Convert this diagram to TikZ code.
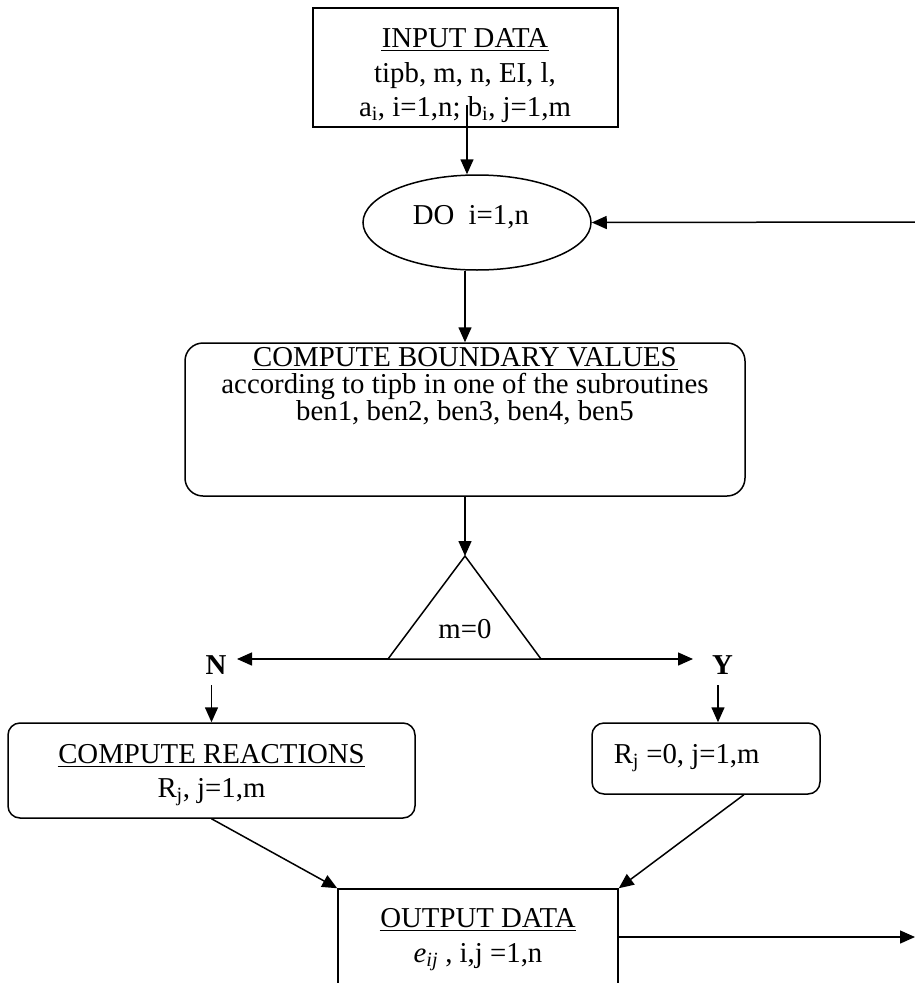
\documentclass[tikz,border=0pt]{standalone}
\usepackage{fontspec}
\setmainfont{Liberation Serif}
\usetikzlibrary{arrows.meta,calc,shapes.geometric}
\begin{document}
\begin{tikzpicture}[x=1pt,y=-1pt, line width=1.5pt,
  txt/.style={inner sep=0pt, font=\fontsize{28.8}{34}\selectfont},
  boxsharp/.style={draw, rectangle, inner sep=0pt},
  boxround/.style={draw, rectangle, rounded corners=#1, inner sep=0pt},
  arr/.style={-{Triangle[length=15pt,width=13pt]}},
  ul/.style={line width=1.4pt}]
\useasboundingbox (0,0) rectangle (915,983);

% input box
\node[boxsharp, minimum width=305pt, minimum height=119pt] (inp) at (465.5,67.5) {};
\node[txt, anchor=base] (inp1) at (465,47) {INPUT DATA};
\node[txt, anchor=base] (inp2) at (465,82) {tipb, m, n, EI, l,};
\node[txt, anchor=base] (inp3) at (465,116) {a\textsubscript{i}, i=1,n; b\textsubscript{i}, j=1,m};
\draw[ul] ([yshift=-3.5pt]inp1.base west) -- ([yshift=-3.5pt]inp1.base east);

% DO ellipse
\coordinate (instart) at (467,105);
\node[draw, ellipse, minimum width=228pt, minimum height=95pt, inner sep=0pt] (do) at (477,222.5) {};
\node[txt, anchor=base west] (dotxt) at (412,224) {DO~~i=1,n};
\draw[arr] (instart) -- (instart |- do.north);
\coordinate (loopin) at (915,222);
\draw[arr] (loopin) -- (do.east);

% compute boundary values
\node[boxround=18pt, minimum width=560pt, minimum height=153pt] (cbv) at (465,419.5) {};
\node[txt, anchor=base] (cbv1) at (465,366) {COMPUTE BOUNDARY VALUES};
\node[txt, anchor=base] (cbv2) at (465,393) {according to tipb in one of the subroutines};
\node[txt, anchor=base] (cbv3) at (465,420) {ben1, ben2, ben3, ben4, ben5};
\draw[ul] ([yshift=-3.5pt]cbv1.base west) -- ([yshift=-3.5pt]cbv1.base east);
\draw[arr] (cbv.north |- do.south) -- (cbv.north);

% decision triangle
\coordinate (apex) at (465,556);
\coordinate (tl) at (388,659);
\coordinate (tr) at (541,659);
\draw (apex) -- (tl) -- (tr) -- cycle;
\draw[arr] (cbv.south) -- (apex);
\node[txt, anchor=base] (mz) at (465,638) {m=0};
\coordinate (ntip) at (237,659);
\coordinate (ytip) at (693,659);
\draw[arr] (tl) -- (ntip);
\draw[arr] (tr) -- (ytip);
\node[txt, anchor=base] (nlab) at (216,674) {\textbf{N}};
\node[txt, anchor=base] (ylab) at (722.5,674) {\textbf{Y}};

% compute reactions
\node[boxround=12pt, minimum width=407pt, minimum height=95pt] (cr) at (211.5,770.5) {};
\node[txt, anchor=base] (cr1) at (211.5,763) {COMPUTE REACTIONS};
\node[txt, anchor=base] (cr2) at (211.5,797) {R\textsubscript{j}, j=1,m};
\draw[ul] ([yshift=-3.5pt]cr1.base west) -- ([yshift=-3.5pt]cr1.base east);

% Rj = 0
\node[boxround=12pt, minimum width=228pt, minimum height=71pt] (rj) at (706,758.5) {};
\node[txt, anchor=base west] (rj1) at (613,763) {R\textsubscript{j} =0, j=1,m};

\coordinate (nd) at (211.5,685);
\draw[arr] (nd) -- (nd |- cr.north);
\coordinate (yd) at (718,685);
\draw[arr] (yd) -- (yd |- rj.north);

% output
\node[boxsharp, minimum width=280pt, minimum height=130pt] (out) at (478,954) {};
\node[txt, anchor=base] (out1) at (478,927) {OUTPUT DATA};
\node[txt, anchor=base] (out2) at (478,962) {\textit{e}\textsubscript{\textit{ij}} , i,j =1,n};
\draw[ul] ([yshift=-3.5pt]out1.base west) -- ([yshift=-3.5pt]out1.base east);

\draw[arr] (cr.south) -- (out.north west);
\draw[arr] ($(rj.south west)!0.665!(rj.south east)$) -- (out.north east);
\coordinate (outarr) at (915,937);
\draw[arr] (outarr -| out.east) -- (outarr);
\end{tikzpicture}
\end{document}
